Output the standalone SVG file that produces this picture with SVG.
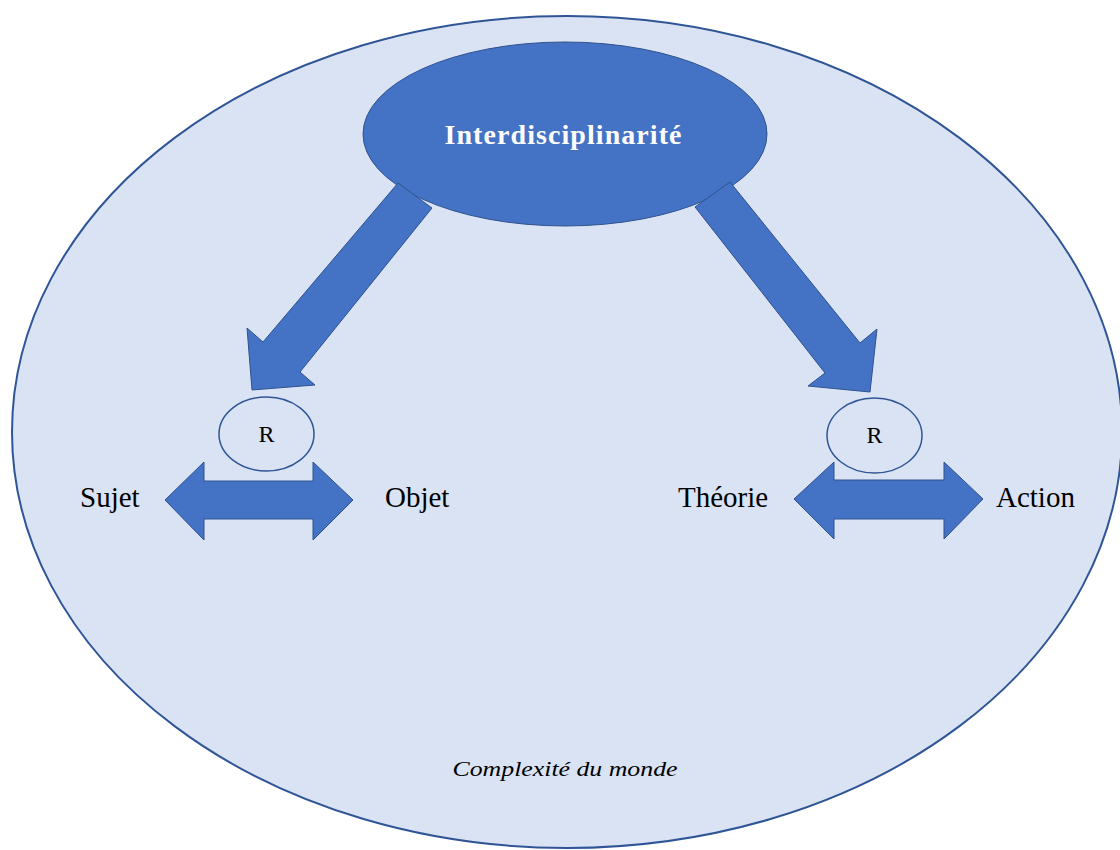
<svg xmlns="http://www.w3.org/2000/svg" width="1120" height="850" viewBox="0 0 1120 850">
<style>
.blk{fill:#4472C4;stroke:#2F528F;stroke-width:1}
.lbl{font-family:"Liberation Serif","Times New Roman",serif;font-size:29px;fill:#000}
.r{font-family:"Liberation Serif","Times New Roman",serif;font-size:24px;fill:#000;text-anchor:middle}
.rc{fill:none;stroke:#2F5597;stroke-width:1.5}
</style>
<rect width="1120" height="850" fill="#fff"/>
<g id="world">
<ellipse cx="567" cy="432" rx="555" ry="416" fill="#DAE3F3" stroke="#2F5597" stroke-width="2"/>
<text x="565" y="776" text-anchor="middle" font-family="Liberation Serif, serif" font-style="italic" font-size="22" textLength="225" lengthAdjust="spacingAndGlyphs">Complexité du monde</text>
</g>
<g id="interdisciplinarite">
<ellipse class="blk" cx="565" cy="134" rx="202" ry="92"/>
<text x="563" y="144" text-anchor="middle" font-family="Liberation Serif, serif" font-weight="bold" font-size="28" fill="#fff" textLength="237" lengthAdjust="spacing">Interdisciplinarité</text>
</g>
<g id="connectors">
<polygon class="blk" points="398,183 432,208 300,372 315,385 252,390 247,328 263,342"/>
<polygon class="blk" points="730,182 860,343 877,329 870,392 808,386 825,373 695,207"/>
<polygon class="blk" points="165,500 204,462 204,481 313,481 313,462 353,500 313,540 313,519 204,519 204,540"/>
<polygon class="blk" points="794,499 834,462 834,480 944,480 944,462 983,499 944,539 944,519 834,519 834,539"/>
</g>
<g id="r-left">
<ellipse class="rc" cx="266.5" cy="434" rx="47.5" ry="37"/>
<text class="r" x="266.5" y="442">R</text>
</g>
<g id="r-right">
<ellipse class="rc" cx="874.5" cy="435.5" rx="47.5" ry="37.5"/>
<text class="r" x="874.5" y="443">R</text>
</g>
<g id="sujet"><text class="lbl" x="80" y="507">Sujet</text></g>
<g id="objet"><text class="lbl" x="385" y="507">Objet</text></g>
<g id="theorie"><text class="lbl" x="678" y="507">Théorie</text></g>
<g id="action"><text class="lbl" x="996" y="507">Action</text></g>
</svg>
